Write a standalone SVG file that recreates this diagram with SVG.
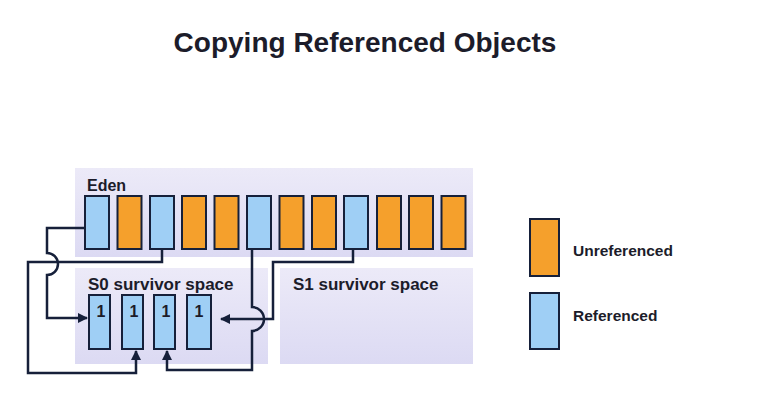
<svg xmlns="http://www.w3.org/2000/svg" width="769" height="417" viewBox="0 0 769 417">
<defs>
<linearGradient id="reg" x1="0" y1="0" x2="0" y2="1">
<stop offset="0" stop-color="#ECEAF8"/>
<stop offset="1" stop-color="#DCDAF3"/>
</linearGradient>
<marker id="ah" viewBox="0 0 10 10" refX="9" refY="5" markerWidth="4" markerHeight="4" orient="auto" markerUnits="strokeWidth">
<path d="M0,0 L10,5 L0,10 z" fill="#16203a"/>
</marker>
</defs>
<style>
.reg{fill:url(#reg);}
.ref{fill:#9fcff5;stroke:#16203a;stroke-width:2;}
.unref{fill:#f5a02c;stroke:#16203a;stroke-width:2;}
.t{font-family:"Liberation Sans",Arial,sans-serif;font-weight:bold;fill:#1c1c2a;}
.conn{fill:none;stroke:#16203a;stroke-width:2.5;}
</style>
<rect width="769" height="417" fill="#ffffff"/>
<text class="t" x="365" y="52" font-size="28" text-anchor="middle">Copying Referenced Objects</text>

<g id="eden">
<rect class="reg" x="75" y="168" width="398" height="89"/>
<text class="t" x="87" y="191" font-size="16">Eden</text>
<rect class="ref" x="85" y="196" width="24" height="53"/>
<rect class="unref" x="117.5" y="196" width="24" height="53"/>
<rect class="ref" x="150" y="196" width="24" height="53"/>
<rect class="unref" x="182" y="196" width="24" height="53"/>
<rect class="unref" x="214.5" y="196" width="24" height="53"/>
<rect class="ref" x="247" y="196" width="24" height="53"/>
<rect class="unref" x="279.5" y="196" width="24" height="53"/>
<rect class="unref" x="312" y="196" width="24" height="53"/>
<rect class="ref" x="344" y="196" width="24" height="53"/>
<rect class="unref" x="377" y="196" width="24" height="53"/>
<rect class="unref" x="409" y="196" width="24" height="53"/>
<rect class="unref" x="441.5" y="196" width="24" height="53"/>
</g>

<g id="s0">
<rect class="reg" x="75" y="268" width="193" height="96"/>
<text class="t" x="88" y="290" font-size="17">S0 survivor space</text>
<rect class="ref" x="89" y="295" width="21" height="54"/>
<rect class="ref" x="122" y="295" width="21" height="54"/>
<rect class="ref" x="154" y="295" width="21" height="54"/>
<rect class="ref" x="187" y="295" width="24" height="54"/>
<text class="t" x="101" y="317" font-size="16" text-anchor="middle">1</text>
<text class="t" x="134" y="317" font-size="16" text-anchor="middle">1</text>
<text class="t" x="166" y="317" font-size="16" text-anchor="middle">1</text>
<text class="t" x="199" y="317" font-size="16" text-anchor="middle">1</text>
</g>

<g id="s1">
<rect class="reg" x="280" y="268" width="193" height="96"/>
<text class="t" x="293" y="290" font-size="17">S1 survivor space</text>
</g>

<g id="legend">
<rect class="unref" x="530" y="219" width="29" height="57"/>
<text class="t" x="573" y="256" font-size="15.5">Unreferenced</text>
<rect class="ref" x="530" y="293" width="29" height="56"/>
<text class="t" x="573" y="321" font-size="15.5">Referenced</text>
</g>

<g id="connectors">
<path class="conn" d="M85,228 H47 V253 A11,11 0 0 1 47,275 V318 H87" marker-end="url(#ah)"/>
<path class="conn" d="M162,249 V262 H28 V373 H136 V351" marker-end="url(#ah)"/>
<path class="conn" d="M252,249 V307 A12,12 0 0 1 252,331 V370 H167 V351" marker-end="url(#ah)"/>
<path class="conn" d="M353,249 V262 H273 V319 H221" marker-end="url(#ah)"/>
</g>
</svg>
